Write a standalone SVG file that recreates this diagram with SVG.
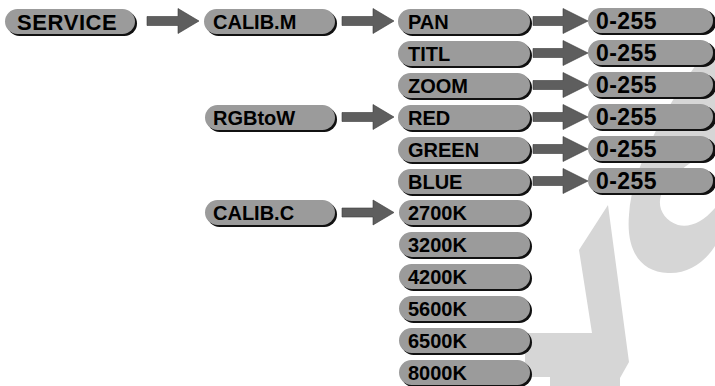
<svg xmlns="http://www.w3.org/2000/svg" width="715" height="386" viewBox="0 0 715 386">
<style>
.sh{fill:#111}
.bx{fill:#9b9b9b}
.t{font-family:"Liberation Sans",Arial,sans-serif;font-weight:bold;font-size:20px;fill:#000}
.big{font-size:22px;letter-spacing:0.6px}
.num{font-size:23px;letter-spacing:0.4px}
.ar{fill:#5e5e5e;stroke:#3a3a3a;stroke-width:0.6}
.wm{fill:#d6d6d6}
</style>
<defs>
<path id="a2" d="M0,-4.5 L31,-4.5 L31,-12.5 L52,0 L31,12.5 L31,4.5 L0,4.5 Z"/>
<path id="a3" d="M0,-4.5 L30,-4.5 L30,-12.5 L55,0 L30,12.5 L30,4.5 L0,4.5 Z"/>
</defs>
<rect width="715" height="386" fill="#fff"/>
<g id="watermark">
<path class="wm" d="M608,205 L579,250 L592,333 L525,333 L525,377 L550,377 L550,386 L620,386 L620,378 L629,362 Z"/>
<path class="wm" d="M703,55 C670,100 632,165 629,215 C626,250 640,272 668,273 C688,274 705,262 715,246 L715,208 C703,222 690,228 678,225 C664,220 657,208 661,195 C667,178 692,160 715,148 L715,50 Z"/>
</g>
<g id="connectors">
<use href="#a2" class="ar" transform="translate(147,21)"/>
<use href="#a2" class="ar" transform="translate(342,21)"/>
<use href="#a2" class="ar" transform="translate(342,117)"/>
<use href="#a2" class="ar" transform="translate(342,212.5)"/>
<use href="#a3" class="ar" transform="translate(533,21)"/>
<use href="#a3" class="ar" transform="translate(533,53)"/>
<use href="#a3" class="ar" transform="translate(533,85)"/>
<use href="#a3" class="ar" transform="translate(533,117)"/>
<use href="#a3" class="ar" transform="translate(533,149)"/>
<use href="#a3" class="ar" transform="translate(533,181)"/>
</g>
<g id="n-service"><rect class="sh" x="7" y="11" width="130" height="25" rx="12.5"/><rect class="bx" x="5" y="9" width="130" height="25" rx="12.5"/><text class="t big" x="17" y="29.5">SERVICE</text></g>
<g id="n-calibm"><rect class="sh" x="206" y="11" width="131" height="25" rx="12.5"/><rect class="bx" x="204" y="9" width="131" height="25" rx="12.5"/><text class="t" x="213" y="29">CALIB.M</text></g>
<g id="n-rgbtow"><rect class="sh" x="207" y="107" width="130" height="25" rx="12.5"/><rect class="bx" x="205" y="105" width="130" height="25" rx="12.5"/><text class="t" x="213" y="125">RGBtoW</text></g>
<g id="n-calibc"><rect class="sh" x="207" y="202" width="130" height="25" rx="12.5"/><rect class="bx" x="205" y="200" width="130" height="25" rx="12.5"/><text class="t" x="213" y="220">CALIB.C</text></g>
<g id="n-pan"><rect class="sh" x="400" y="11" width="132" height="25" rx="12.5"/><rect class="bx" x="398" y="9" width="132" height="25" rx="12.5"/><text class="t" x="408" y="29">PAN</text></g>
<g id="n-titl"><rect class="sh" x="400" y="43" width="132" height="25" rx="12.5"/><rect class="bx" x="398" y="41" width="132" height="25" rx="12.5"/><text class="t" x="408" y="61">TITL</text></g>
<g id="n-zoom"><rect class="sh" x="400" y="75" width="132" height="25" rx="12.5"/><rect class="bx" x="398" y="73" width="132" height="25" rx="12.5"/><text class="t" x="408" y="93">ZOOM</text></g>
<g id="n-red"><rect class="sh" x="400" y="107" width="132" height="25" rx="12.5"/><rect class="bx" x="398" y="105" width="132" height="25" rx="12.5"/><text class="t" x="408" y="125">RED</text></g>
<g id="n-green"><rect class="sh" x="400" y="139" width="132" height="25" rx="12.5"/><rect class="bx" x="398" y="137" width="132" height="25" rx="12.5"/><text class="t" x="408" y="157">GREEN</text></g>
<g id="n-blue"><rect class="sh" x="400" y="171" width="132" height="25" rx="12.5"/><rect class="bx" x="398" y="169" width="132" height="25" rx="12.5"/><text class="t" x="408" y="189">BLUE</text></g>
<g id="n-2700k"><rect class="sh" x="401" y="202" width="131" height="25" rx="12.5"/><rect class="bx" x="399" y="200" width="131" height="25" rx="12.5"/><text class="t" x="408" y="220">2700K</text></g>
<g id="n-3200k"><rect class="sh" x="401" y="234" width="131" height="25" rx="12.5"/><rect class="bx" x="399" y="232" width="131" height="25" rx="12.5"/><text class="t" x="408" y="252">3200K</text></g>
<g id="n-4200k"><rect class="sh" x="401" y="266" width="131" height="25" rx="12.5"/><rect class="bx" x="399" y="264" width="131" height="25" rx="12.5"/><text class="t" x="408" y="284">4200K</text></g>
<g id="n-5600k"><rect class="sh" x="401" y="298" width="131" height="25" rx="12.5"/><rect class="bx" x="399" y="296" width="131" height="25" rx="12.5"/><text class="t" x="408" y="316">5600K</text></g>
<g id="n-6500k"><rect class="sh" x="401" y="330" width="131" height="25" rx="12.5"/><rect class="bx" x="399" y="328" width="131" height="25" rx="12.5"/><text class="t" x="408" y="348">6500K</text></g>
<g id="n-8000k"><rect class="sh" x="401" y="362" width="131" height="25" rx="12.5"/><rect class="bx" x="399" y="360" width="131" height="25" rx="12.5"/><text class="t" x="408" y="380">8000K</text></g>
<g id="n-pan-v"><rect class="sh" x="590" y="10" width="126" height="25" rx="12.5"/><rect class="bx" x="588" y="8" width="125" height="25" rx="12.5"/><text class="t num" x="596" y="29">0-255</text></g>
<g id="n-titl-v"><rect class="sh" x="590" y="42" width="126" height="25" rx="12.5"/><rect class="bx" x="588" y="40" width="125" height="25" rx="12.5"/><text class="t num" x="596" y="61">0-255</text></g>
<g id="n-zoom-v"><rect class="sh" x="590" y="74" width="126" height="25" rx="12.5"/><rect class="bx" x="588" y="72" width="125" height="25" rx="12.5"/><text class="t num" x="596" y="93">0-255</text></g>
<g id="n-red-v"><rect class="sh" x="590" y="106" width="126" height="25" rx="12.5"/><rect class="bx" x="588" y="104" width="125" height="25" rx="12.5"/><text class="t num" x="596" y="125">0-255</text></g>
<g id="n-green-v"><rect class="sh" x="590" y="138" width="126" height="25" rx="12.5"/><rect class="bx" x="588" y="136" width="125" height="25" rx="12.5"/><text class="t num" x="596" y="157">0-255</text></g>
<g id="n-blue-v"><rect class="sh" x="590" y="170" width="126" height="25" rx="12.5"/><rect class="bx" x="588" y="168" width="125" height="25" rx="12.5"/><text class="t num" x="596" y="189">0-255</text></g>
</svg>
